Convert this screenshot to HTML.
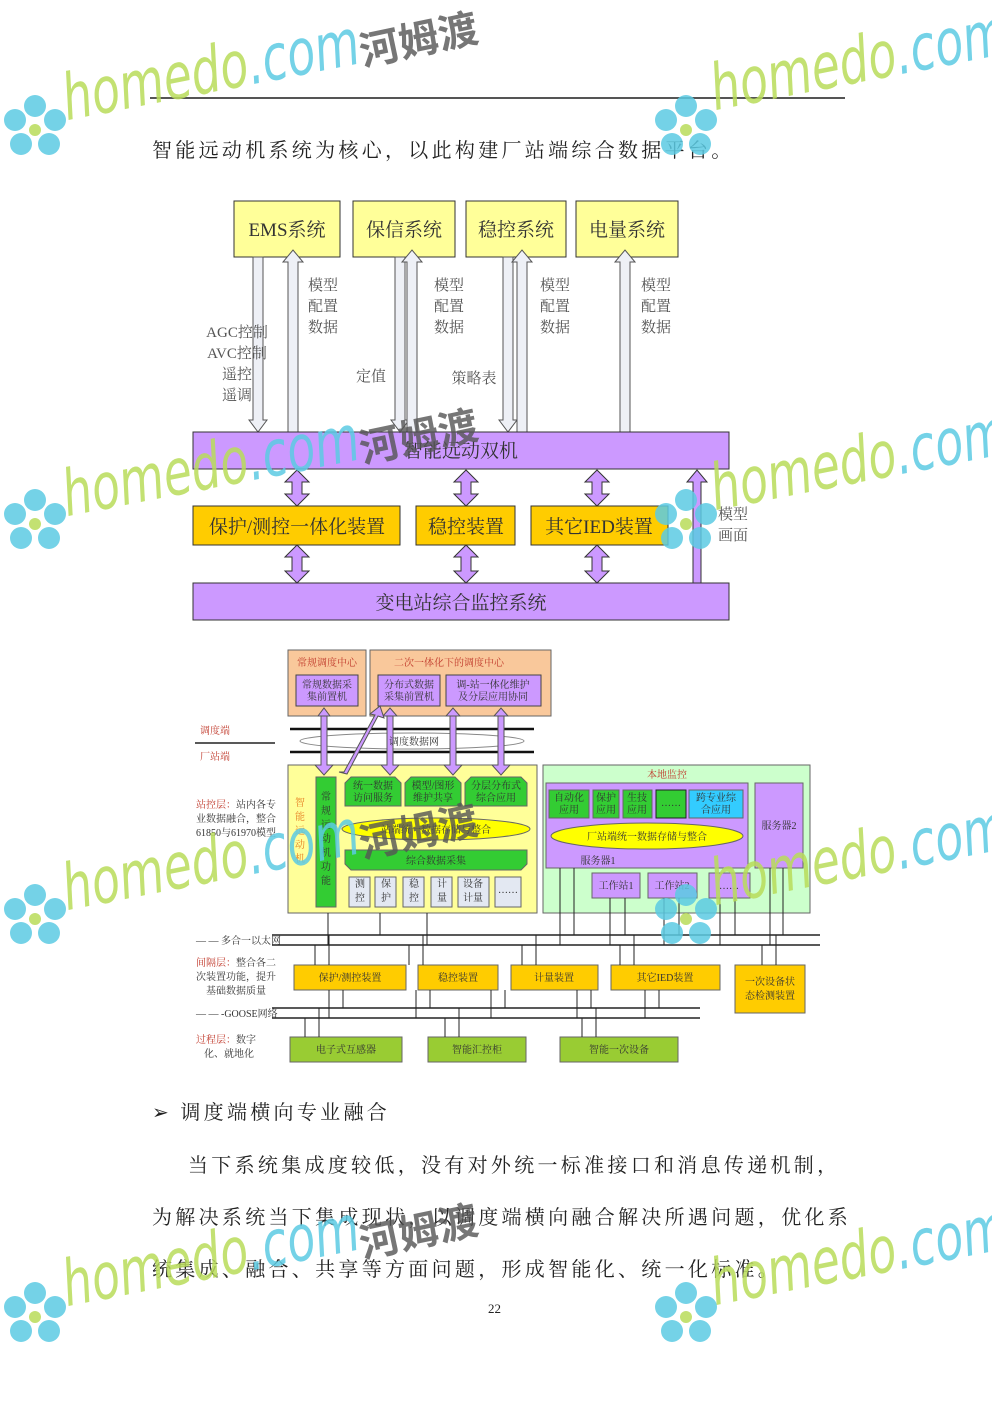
<!DOCTYPE html>
<html><head><meta charset="utf-8"><style>
body{margin:0;background:#fff}
#p{position:relative;width:992px;height:1403px;overflow:hidden;background:#fff}
.t{position:absolute;font-family:"Liberation Serif","Noto Serif CJK SC","Noto Sans CJK SC",serif;font-size:20px;letter-spacing:3.3px;color:#222;white-space:nowrap}
svg text{font-family:"Liberation Serif","Noto Serif CJK SC",serif}
.wm{position:absolute;transform:rotate(-11deg) scaleX(.72);transform-origin:left bottom;font-family:"DejaVu Sans","Liberation Sans",sans-serif;font-style:italic;font-size:64px;white-space:nowrap;opacity:.85}
.wm .h{color:#b9dc5a}.wm .c{color:#5ccbe3}
.hm{position:absolute;transform:rotate(-12deg);font-family:"Noto Sans CJK SC",sans-serif;font-weight:bold;font-size:40px;color:#555;opacity:.8}
</style></head><body><div id="p">
<div style="position:absolute;left:150px;top:97px;width:695px;height:2px;background:#555"></div>
<div class="t" style="left:152px;top:134px">智能远动机系统为核心，以此构建厂站端综合数据平台。</div>

<svg width="992" height="1403" style="position:absolute;left:0;top:0">
<g stroke="#333" stroke-width="1">
<rect x="234" y="201" width="106" height="56" fill="#ffff99"/>
<rect x="353" y="201" width="102" height="56" fill="#ffff99"/>
<rect x="466" y="201" width="100" height="56" fill="#ffff99"/>
<rect x="576" y="201" width="102" height="56" fill="#ffff99"/>
<g fill="#eef0f6" stroke="#555">
<polygon points="253,257 263,257 263,420 267,420 258,432 249,420 253,420"/>
<polygon points="288,432 298,432 298,262 303,262 293,250 283,262 288,262"/>
<polygon points="395,257 405,257 405,420 409,420 400,432 391,420 395,420"/>
<polygon points="407,432 417,432 417,262 422,262 412,250 402,262 407,262"/>
<polygon points="503,257 513,257 513,420 517,420 508,432 499,420 503,420"/>
<polygon points="517,432 527,432 527,262 532,262 522,250 512,262 517,262"/>
<polygon points="620,432 630,432 630,262 635,262 625,250 615,262 620,262"/>
</g>
<rect x="193" y="432" width="536" height="37" fill="#cc99ff"/>
<rect x="193" y="506" width="207" height="39" fill="#ffcc00"/>
<rect x="416" y="506" width="99" height="39" fill="#ffcc00"/>
<rect x="531" y="506" width="137" height="39" fill="#ffcc00"/>
<rect x="193" y="583" width="536" height="37" fill="#cc99ff"/>
<g fill="#cc99ff" stroke="#333">
<polygon points="292,482 285,482 297,470 309,482 302,482 302,494 309,494 297,506 285,494 292,494"/>
<polygon points="461,482 454,482 466,470 478,482 471,482 471,494 478,494 466,506 454,494 461,494"/>
<polygon points="592,482 585,482 597,470 609,482 602,482 602,494 609,494 597,506 585,494 592,494"/>
<polygon points="292,557 285,557 297,545 309,557 302,557 302,571 309,571 297,583 285,571 292,571"/>
<polygon points="461,557 454,557 466,545 478,557 471,557 471,571 478,571 466,583 454,571 461,571"/>
<polygon points="592,557 585,557 597,545 609,557 602,557 602,571 609,571 597,583 585,571 592,571"/>
<polygon points="693,583 701,583 701,482 707,482 697,470 687,482 693,482"/>
</g>
</g>
<g font-size="19" fill="#333" text-anchor="middle">
<text x="287" y="236">EMS系统</text><text x="404" y="236">保信系统</text><text x="516" y="236">稳控系统</text><text x="627" y="236">电量系统</text>
<text x="461" y="457">智能远动双机</text><text x="297" y="533">保护/测控一体化装置</text><text x="466" y="533">稳控装置</text><text x="599" y="533">其它IED装置</text><text x="461" y="609">变电站综合监控系统</text>
</g>
<g font-size="15" fill="#555" text-anchor="middle">
<text x="237" y="337">AGC控制</text><text x="237" y="358">AVC控制</text><text x="237" y="379">遥控</text><text x="237" y="400">遥调</text>
<text x="323" y="290">模型</text><text x="323" y="311">配置</text><text x="323" y="332">数据</text>
<text x="449" y="290">模型</text><text x="449" y="311">配置</text><text x="449" y="332">数据</text>
<text x="555" y="290">模型</text><text x="555" y="311">配置</text><text x="555" y="332">数据</text>
<text x="656" y="290">模型</text><text x="656" y="311">配置</text><text x="656" y="332">数据</text>
<text x="371" y="381">定值</text><text x="474" y="383">策略表</text>
<text x="733" y="519">模型</text><text x="733" y="540">画面</text>
</g>

<g stroke="#666" stroke-width="1">
<rect x="288" y="650" width="78" height="66" fill="#f9c89b"/>
<rect x="370" y="650" width="181" height="66" fill="#f9c89b"/>
<rect x="296" y="675" width="62" height="31" fill="#cc99ff" stroke="#444"/>
<rect x="378" y="675" width="62" height="31" fill="#cc99ff" stroke="#444"/>
<rect x="446" y="675" width="95" height="31" fill="#cc99ff" stroke="#444"/>
<rect x="288" y="765" width="249" height="148" fill="#ffff99"/>
<rect x="543" y="765" width="267" height="148" fill="#ccffcc"/>
<rect x="546" y="783" width="202" height="85" fill="#cc99ff"/>
<rect x="755" y="783" width="48" height="85" fill="#cc99ff"/>
<rect x="592" y="873" width="48" height="25" fill="#cc99ff"/>
<rect x="648" y="873" width="49" height="25" fill="#cc99ff"/>
<rect x="709" y="873" width="41" height="25" fill="#cc99ff"/>
<rect x="549" y="790" width="40" height="28" fill="#33cc33"/>
<rect x="593" y="790" width="26" height="28" fill="#33cc33"/>
<rect x="623" y="790" width="29" height="28" fill="#33cc33"/>
<rect x="656" y="790" width="30" height="28" fill="#33cc33" stroke="#222"/>
<rect x="689" y="790" width="54" height="28" fill="#33ccff"/>
<ellipse cx="647" cy="836" rx="96" ry="13" fill="#ffff00"/>
<rect x="316" y="777" width="20" height="130" fill="#33cc33"/>
<polygon points="345,783 351,777 395,777 401,783 401,806 345,806" fill="#33cc33"/>
<polygon points="405,783 411,777 455,777 461,783 461,806 405,806" fill="#33cc33"/>
<polygon points="465,783 471,777 521,777 527,783 527,806 465,806" fill="#33cc33"/>
<ellipse cx="436" cy="829" rx="94" ry="11" fill="#ffff00"/>
<polygon points="345,850 527,850 527,864 521,870 351,870 345,864" fill="#33cc33"/>
<g fill="#e3e8f2"><rect x="349" y="877" width="21" height="30"/><rect x="375" y="877" width="21" height="30"/><rect x="403" y="877" width="21" height="30"/><rect x="431" y="877" width="21" height="30"/><rect x="458" y="877" width="31" height="30"/><rect x="495" y="877" width="26" height="30"/></g>
<g fill="#ffcc00"><rect x="294" y="965" width="112" height="25"/><rect x="418" y="965" width="80" height="25"/><rect x="511" y="965" width="87" height="25"/><rect x="611" y="965" width="109" height="25"/><rect x="735" y="965" width="70" height="48"/></g>
<g fill="#99cc33"><rect x="290" y="1037" width="112" height="25"/><rect x="428" y="1037" width="98" height="25"/><rect x="560" y="1037" width="118" height="25"/></g>
</g>
<ellipse cx="412" cy="741" rx="112" ry="8" fill="#fff" stroke="#888"/>
<g stroke="#111" stroke-width="2.5"><line x1="290" y1="729" x2="534" y2="729"/><line x1="290" y1="752" x2="534" y2="752"/></g>
<line x1="195" y1="743" x2="275" y2="743" stroke="#222" stroke-width="1.5"/>
<g fill="#cc99ff" stroke="#555">
<polygon points="321,716 327,716 327,765 333,765 324,775 315,765 321,765 321,716"/>
<polygon points="318,716 330,716 324,708" />
<polygon points="387,716 393,716 393,765 399,765 390,775 381,765 387,765"/>
<polygon points="383,716 397,716 390,708"/>
<polygon points="450,716 456,716 456,765 462,765 453,775 444,765 450,765"/>
<polygon points="446,716 460,716 453,708"/>
<polygon points="498,716 504,716 504,765 510,765 501,775 492,765 498,765"/>
<polygon points="494,716 508,716 501,708"/>
<polygon points="339,772 347,774 378,716 384,718 380,706 370,714 375,715 344,772"/>
</g>
<g stroke="#222" stroke-width="1.5">
<line x1="272" y1="935" x2="820" y2="935"/><line x1="272" y1="945" x2="820" y2="945"/>
<line x1="272" y1="1008" x2="700" y2="1008"/><line x1="272" y1="1018" x2="700" y2="1018"/>
</g>
<g stroke="#222" stroke-width="1">
<line x1="328" y1="913" x2="328" y2="945"/><line x1="380" y1="913" x2="380" y2="935"/><line x1="427" y1="913" x2="427" y2="945"/>
<line x1="560" y1="868" x2="560" y2="945"/><line x1="574" y1="868" x2="574" y2="935"/>
<line x1="610" y1="898" x2="610" y2="945"/><line x1="625" y1="898" x2="625" y2="935"/>
<line x1="664" y1="898" x2="664" y2="945"/><line x1="679" y1="898" x2="679" y2="935"/>
<line x1="720" y1="898" x2="720" y2="945"/><line x1="735" y1="898" x2="735" y2="935"/>
<line x1="770" y1="868" x2="770" y2="945"/><line x1="783" y1="868" x2="783" y2="935"/>
<line x1="315" y1="945" x2="315" y2="965"/><line x1="329" y1="935" x2="329" y2="965"/>
<line x1="409" y1="945" x2="409" y2="965"/><line x1="423" y1="935" x2="423" y2="965"/>
<line x1="522" y1="945" x2="522" y2="965"/><line x1="536" y1="935" x2="536" y2="965"/>
<line x1="620" y1="945" x2="620" y2="965"/><line x1="634" y1="935" x2="634" y2="965"/>
<line x1="762" y1="945" x2="762" y2="965"/><line x1="776" y1="935" x2="776" y2="965"/>
<line x1="329" y1="990" x2="329" y2="1018"/><line x1="343" y1="990" x2="343" y2="1008"/>
<line x1="416" y1="990" x2="416" y2="1018"/><line x1="430" y1="990" x2="430" y2="1008"/>
<line x1="491" y1="990" x2="491" y2="1018"/><line x1="505" y1="990" x2="505" y2="1008"/>
<line x1="577" y1="990" x2="577" y2="1018"/><line x1="591" y1="990" x2="591" y2="1008"/>
<line x1="645" y1="990" x2="645" y2="1018"/><line x1="659" y1="990" x2="659" y2="1008"/>
<line x1="305" y1="1018" x2="305" y2="1037"/><line x1="319" y1="1008" x2="319" y2="1037"/>
<line x1="445" y1="1018" x2="445" y2="1037"/><line x1="459" y1="1008" x2="459" y2="1037"/>
<line x1="582" y1="1018" x2="582" y2="1037"/><line x1="596" y1="1008" x2="596" y2="1037"/>
</g>
<g font-size="10" fill="#333" text-anchor="middle">
<text x="327" y="666" fill="#c0392b">常规调度中心</text><text x="449" y="666" fill="#c0392b">二次一体化下的调度中心</text>
<text x="327" y="688">常规数据采</text><text x="327" y="700">集前置机</text>
<text x="409" y="688">分布式数据</text><text x="409" y="700">采集前置机</text>
<text x="493" y="688">调-站一体化维护</text><text x="493" y="700">及分层应用协同</text>
<text x="414" y="745">调度数据网</text>
<text x="373" y="789">统一数据</text><text x="373" y="801">访问服务</text>
<text x="433" y="789">模型/图形</text><text x="433" y="801">维护共享</text>
<text x="496" y="789">分层分布式</text><text x="496" y="801">综合应用</text>
<text x="436" y="833">站端统一数据存储与整合</text><text x="436" y="864">综合数据采集</text>
<text x="667" y="778" fill="#c0392b">本地监控</text>
<text x="569" y="801">自动化</text><text x="569" y="813">应用</text><text x="606" y="801">保护</text><text x="606" y="813">应用</text><text x="637" y="801">生技</text><text x="637" y="813">应用</text><text x="671" y="806">……</text><text x="716" y="801">跨专业综</text><text x="716" y="813">合应用</text>
<text x="647" y="840">厂站端统一数据存储与整合</text><text x="598" y="864">服务器1</text><text x="779" y="829">服务器2</text>
<text x="616" y="889">工作站1</text><text x="672" y="889">工作站2</text><text x="729" y="889">……</text>
<text x="350" y="981">保护/测控装置</text><text x="458" y="981">稳控装置</text><text x="554" y="981">计量装置</text><text x="665" y="981">其它IED装置</text><text x="770" y="985">一次设备状</text><text x="770" y="999">态检测装置</text>
<text x="346" y="1053">电子式互感器</text><text x="477" y="1053">智能汇控柜</text><text x="619" y="1053">智能一次设备</text>
<text x="360" y="887">测</text><text x="360" y="901">控</text><text x="386" y="887">保</text><text x="386" y="901">护</text><text x="414" y="887">稳</text><text x="414" y="901">控</text><text x="442" y="887">计</text><text x="442" y="901">量</text><text x="473" y="887">设备</text><text x="473" y="901">计量</text><text x="508" y="893">……</text>
<text x="326" y="800">常</text><text x="326" y="814">规</text><text x="326" y="828">远</text><text x="326" y="842">动</text><text x="326" y="856">机</text><text x="326" y="870">功</text><text x="326" y="884">能</text>
<g fill="#e67e22"><text x="300" y="806">智</text><text x="300" y="820">能</text><text x="300" y="834">远</text><text x="300" y="848">动</text><text x="300" y="862">机</text></g>
</g>
<g font-size="10" fill="#333">
<text x="200" y="734" fill="#c0392b">调度端</text><text x="200" y="760" fill="#c0392b">厂站端</text>
<text x="196" y="808"><tspan fill="#c0392b">站控层：</tspan>站内各专</text><text x="196" y="822">业数据融合，整合</text><text x="196" y="836">61850与61970模型</text>
<text x="196" y="944">— — 多合一以太网</text>
<text x="196" y="966"><tspan fill="#c0392b">间隔层：</tspan>整合各二</text><text x="196" y="980">次装置功能，提升</text><text x="206" y="994">基础数据质量</text>
<text x="196" y="1017">— — -GOOSE网络</text>
<text x="196" y="1043"><tspan fill="#c0392b">过程层：</tspan>数字</text><text x="204" y="1057">化、就地化</text>
</g>
</svg>

<div class="t" style="left:152px;top:1096px">➢ 调度端横向专业融合</div>
<div class="t" style="left:188px;top:1149px">当下系统集成度较低，没有对外统一标准接口和消息传递机制，</div>
<div class="t" style="left:152px;top:1201px">为解决系统当下集成现状，以调度端横向融合解决所遇问题，优化系</div>
<div class="t" style="left:152px;top:1253px">统集成、融合、共享等方面问题，形成智能化、统一化标准。</div>
<div class="t" style="left:488px;top:1301px;font-size:13px;letter-spacing:0">22</div>

<div class="wm" style="left:70px;top:62px"><span class="h">homedo</span><span class="c">.com</span></div>
<div class="hm" style="left:358px;top:8px">河姆渡</div>
<div class="wm" style="left:718px;top:52px"><span class="h">homedo</span><span class="c">.com</span></div>
<div class="wm" style="left:70px;top:458px"><span class="h">homedo</span><span class="c">.com</span></div>
<div class="hm" style="left:358px;top:405px">河姆渡</div>
<div class="wm" style="left:718px;top:452px"><span class="h">homedo</span><span class="c">.com</span></div>
<div class="wm" style="left:70px;top:852px"><span class="h">homedo</span><span class="c">.com</span></div>
<div class="hm" style="left:358px;top:800px">河姆渡</div>
<div class="wm" style="left:718px;top:847px"><span class="h">homedo</span><span class="c">.com</span></div>
<div class="wm" style="left:70px;top:1248px"><span class="h">homedo</span><span class="c">.com</span></div>
<div class="hm" style="left:358px;top:1200px">河姆渡</div>
<div class="wm" style="left:718px;top:1247px"><span class="h">homedo</span><span class="c">.com</span></div>
<svg width="992" height="1403" style="position:absolute;left:0;top:0;opacity:.85">
<defs><g id="f" fill="#5ccbe3"><circle cx="0" cy="-22" r="11"/><circle cx="20" cy="-8" r="11"/><circle cx="14" cy="16" r="11"/><circle cx="-14" cy="16" r="11"/><circle cx="-20" cy="-8" r="11"/><circle cx="0" cy="2" r="6" fill="#b9dc5a"/></g></defs>
<use href="#f" x="35" y="128"/><use href="#f" x="686" y="128"/>
<use href="#f" x="35" y="522"/><use href="#f" x="686" y="522"/>
<use href="#f" x="35" y="917"/><use href="#f" x="686" y="917"/>
<use href="#f" x="35" y="1315"/><use href="#f" x="686" y="1315"/>
</svg>
</div></body></html>
